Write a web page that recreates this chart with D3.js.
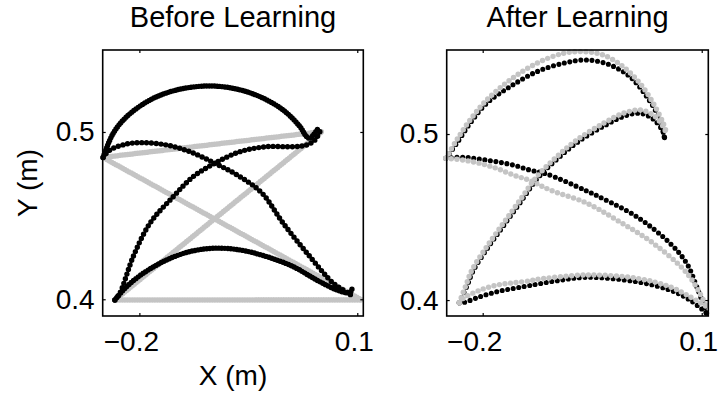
<!DOCTYPE html>
<html>
<head>
<meta charset="utf-8">
<script src="https://cdn.jsdelivr.net/npm/d3@7"></script>
<style>
  html, body { margin: 0; padding: 0; background: #fff; }
  svg { display: block; font-family: "Liberation Sans", Arial, Helvetica, sans-serif; }
</style>
</head>
<body>
<svg id="chart" width="719" height="393"></svg>
<script>
// ---- Text -----------------------------------------------------------------
const panelTitles = ["Before Learning", "After Learning"];
const xTickValues = [-0.2, 0.1];
const xTickLabels = ["\u22120.2", "0.1"];
const yTickValues = [0.4, 0.5];
const yTickLabels = ["0.4", "0.5"];
const xAxisLabel = "X (m)";
const yAxisLabel = "Y (m)";

// ---- Before learning: reference paths (gray) and hand paths (black), [x, y] in m
const beforeRefAC = [[-0.2503, 0.4848], [0.0510, 0.5002]];
const beforeRefAD = [[-0.2503, 0.4848], [0.1060, 0.3996]];
const beforeRefBC = [[-0.2337, 0.3996], [0.0510, 0.5002]];
const beforeRefBD = [[-0.2337, 0.3996], [0.1060, 0.3996]];

const beforeHandAC = [[-0.2499, 0.4848], [-0.2361, 0.4992], [-0.2176, 0.5091], [-0.1855, 0.5191],
  [-0.1488, 0.5251], [-0.1074, 0.5275], [-0.0708, 0.5261], [-0.0340, 0.5211], [-0.0019, 0.5131],
  [0.0211, 0.5032], [0.0303, 0.4972], [0.0348, 0.4962], [0.0400, 0.4985], [0.0463, 0.5022]];
const beforeHandAD = [[-0.2499, 0.4848], [-0.2406, 0.4892], [-0.2176, 0.4928], [-0.1948, 0.4936],
  [-0.1625, 0.4922], [-0.1304, 0.4882], [-0.0960, 0.4813], [-0.0616, 0.4733], [-0.0313, 0.4635],
  [-0.0019, 0.4454], [0.0348, 0.4255], [0.0669, 0.4096], [0.0807, 0.4056], [0.0899, 0.4026],
  [0.0927, 0.4050]];
const beforeHandBC = [[-0.2337, 0.3996], [-0.2269, 0.4036], [-0.2085, 0.4255], [-0.1855, 0.4454],
  [-0.1539, 0.4611], [-0.1259, 0.4733], [-0.0960, 0.4813], [-0.0616, 0.4882], [-0.0248, 0.4912],
  [0.0118, 0.4912], [0.0303, 0.4922], [0.0417, 0.4952], [0.0486, 0.5002]];
const beforeHandBD = [[-0.2337, 0.3996], [-0.2176, 0.4075], [-0.1948, 0.4155], [-0.1625, 0.4235],
  [-0.1304, 0.4285], [-0.0983, 0.4305], [-0.0616, 0.4295], [-0.0248, 0.4255], [0.0118, 0.4195],
  [0.0441, 0.4115], [0.0716, 0.4056], [0.0854, 0.4040], [0.0920, 0.4048], [0.0925, 0.4078]];

// ---- After learning
const afterRefAC = [[-0.2505, 0.4854], [-0.2356, 0.4964], [-0.2174, 0.5084], [-0.1945, 0.5205],
  [-0.1626, 0.5325], [-0.1260, 0.5426], [-0.0896, 0.5486], [-0.0622, 0.5496], [-0.0348, 0.5476],
  [-0.0074, 0.5405], [0.0155, 0.5305], [0.0337, 0.5185], [0.0474, 0.5064], [0.0521, 0.5004]];
const afterRefBC = [[-0.2321, 0.3984], [-0.2229, 0.4090], [-0.2147, 0.4181], [-0.1945, 0.4321],
  [-0.1718, 0.4462], [-0.1489, 0.4602], [-0.1260, 0.4743], [-0.0986, 0.4863], [-0.0712, 0.4964],
  [-0.0348, 0.5064], [-0.0074, 0.5125], [0.0155, 0.5145], [0.0337, 0.5114], [0.0474, 0.5044],
  [0.0521, 0.4994]];
const afterRefAD = [[-0.2505, 0.4854], [-0.2266, 0.4843], [-0.2037, 0.4823], [-0.1808, 0.4793],
  [-0.1581, 0.4753], [-0.1352, 0.4720], [-0.1078, 0.4663], [-0.0575, 0.4584], [-0.0119, 0.4470],
  [0.0333, 0.4343], [0.0795, 0.4163], [0.1022, 0.4000], [0.1068, 0.3950]];
const afterRefBD = [[-0.2321, 0.3984], [-0.2266, 0.4010], [-0.2037, 0.4060], [-0.1808, 0.4090],
  [-0.1581, 0.4104], [-0.1352, 0.4116], [-0.1260, 0.4124], [-0.0575, 0.4151], [0.0110, 0.4131],
  [0.0566, 0.4080], [0.0840, 0.4020], [0.1068, 0.3960]];

const afterHandAC = [[-0.2505, 0.4854], [-0.2356, 0.4944], [-0.2174, 0.5064], [-0.1945, 0.5185],
  [-0.1626, 0.5285], [-0.1260, 0.5375], [-0.0896, 0.5426], [-0.0575, 0.5446], [-0.0256, 0.5416],
  [0.0018, 0.5345], [0.0247, 0.5225], [0.0429, 0.5084], [0.0497, 0.4954]];
const afterHandBC = [[-0.2321, 0.3984], [-0.2215, 0.4085], [-0.2132, 0.4175], [-0.1930, 0.4315],
  [-0.1703, 0.4455], [-0.1474, 0.4595], [-0.1245, 0.4735], [-0.0971, 0.4853], [-0.0697, 0.4952],
  [-0.0333, 0.5050], [-0.0060, 0.5108], [0.0155, 0.5125], [0.0337, 0.5090], [0.0474, 0.5010],
  [0.0497, 0.4954]];
const afterHandAD = [[-0.2505, 0.4854], [-0.2266, 0.4860], [-0.2037, 0.4848], [-0.1808, 0.4833],
  [-0.1581, 0.4813], [-0.1352, 0.4783], [-0.1123, 0.4759], [-0.0575, 0.4657], [-0.0348, 0.4610],
  [0.0110, 0.4502], [0.0566, 0.4342], [0.0795, 0.4221], [0.0932, 0.4080], [0.1068, 0.3920]];
const afterHandBD = [[-0.2321, 0.3984], [-0.2266, 0.3985], [-0.2037, 0.4020], [-0.1808, 0.4050],
  [-0.1581, 0.4070], [-0.1352, 0.4088], [-0.1000, 0.4115], [-0.0575, 0.4137], [0.0110, 0.4110],
  [0.0566, 0.4060], [0.0840, 0.4000], [0.1068, 0.3920]];

// ---- Layout and styling ---------------------------------------------------
const GRAY = "#c4c4c4";
const panels = [
  {
    title: panelTitles[0],
    box: { left: 102.7, right: 363.3, top: 50, bottom: 316 },
    xDomain: [-0.2505, 0.1083], yDomain: [0.3900, 0.5490],
    refs: [beforeRefAC, beforeRefAD, beforeRefBC, beforeRefBD],
    hands: [beforeHandAC, beforeHandAD, beforeHandBC, beforeHandBD],
    refStyle: { width: 5.5, gap: [2.5, 2.5, 2.5, 2.5] },
    handStyle: { width: 5.4, gap: [2.6, 4.8, 4.8, 3.0] },
    refOnTop: false,
    showYLabel: true
  },
  {
    title: panelTitles[1],
    box: { left: 446.7, right: 708.3, top: 50, bottom: 316 },
    xDomain: [-0.2493, 0.1090], yDomain: [0.3904, 0.5506],
    refs: [afterRefAC, afterRefBC, afterRefAD, afterRefBD],
    hands: [afterHandAC, afterHandBC, afterHandAD, afterHandBD],
    refStyle: { width: 5.4, gap: [5.6, 5.6, 5.6, 5.6] },
    handStyle: { width: 5.1, gap: [5.6, 5.6, 5.6, 5.6] },
    refOnTop: true,
    showYLabel: false
  }
];

const svg = d3.select("#chart");
const FONT = 28;

panels.forEach(p => {
  const b = p.box;
  const x = d3.scaleLinear().domain(p.xDomain).range([b.left, b.right]);
  const y = d3.scaleLinear().domain(p.yDomain).range([b.bottom, b.top]);
  const g = svg.append("g");

  const line = d3.line()
    .x(d => x(d[0]))
    .y(d => y(d[1]))
    .curve(d3.curveCatmullRom.alpha(0.5));

  // dotted trajectories: round-capped zero-length dashes give one marker per gap
  const drawSet = (set, color, style) => {
    g.append("g").selectAll("path").data(set).join("path")
      .attr("d", line)
      .attr("fill", "none")
      .attr("stroke", color)
      .attr("stroke-width", style.width)
      .attr("stroke-linecap", "round")
      .attr("stroke-dasharray", (d, i) => `0 ${style.gap[i]}`);
  };
  if (p.refOnTop) {
    drawSet(p.hands, "#000", p.handStyle);
    drawSet(p.refs, GRAY, p.refStyle);
  } else {
    drawSet(p.refs, GRAY, p.refStyle);
    drawSet(p.hands, "#000", p.handStyle);
  }

  // axes with inward ticks on all four sides
  const styleAxis = sel => {
    sel.select(".domain").remove();
    sel.selectAll(".tick line").attr("stroke", "#000").attr("stroke-width", 1.2);
    sel.selectAll("text").attr("font-size", FONT).attr("fill", "#000")
      .attr("font-family", "'Liberation Sans', Arial, Helvetica, sans-serif");
  };

  const bottom = g.append("g").attr("transform", `translate(0,${b.bottom})`)
    .call(d3.axisBottom(x).tickValues(xTickValues)
      .tickFormat((d, i) => xTickLabels[i]).tickSizeInner(-3).tickSizeOuter(0).tickPadding(15));
  styleAxis(bottom);
  bottom.selectAll("text").attr("dx", d => d < 0 ? -8.5 : -3.5);

  const top = g.append("g").attr("transform", `translate(0,${b.top})`)
    .call(d3.axisTop(x).tickValues(xTickValues).tickFormat("").tickSizeInner(-3).tickSizeOuter(0));
  styleAxis(top);

  const left = g.append("g").attr("transform", `translate(${b.left},0)`)
    .call(d3.axisLeft(y).tickValues(yTickValues)
      .tickFormat((d, i) => yTickLabels[i]).tickSizeInner(-3).tickSizeOuter(0).tickPadding(8));
  styleAxis(left);

  const right = g.append("g").attr("transform", `translate(${b.right},0)`)
    .call(d3.axisRight(y).tickValues(yTickValues).tickFormat("").tickSizeInner(-3).tickSizeOuter(0));
  styleAxis(right);

  // box frame
  g.append("rect")
    .attr("x", b.left).attr("y", b.top)
    .attr("width", b.right - b.left).attr("height", b.bottom - b.top)
    .attr("fill", "none").attr("stroke", "#000").attr("stroke-width", 1.6);

  // title
  g.append("text")
    .attr("x", (b.left + b.right) / 2).attr("y", 27)
    .attr("text-anchor", "middle").attr("font-size", 29).attr("fill", "#000")
    .text(p.title);

  if (p.showYLabel) {
    g.append("text")
      .attr("transform", `translate(36.5,${(b.top + b.bottom) / 2}) rotate(-90)`)
      .attr("text-anchor", "middle").attr("font-size", FONT).attr("fill", "#000")
      .text(yAxisLabel);
    g.append("text")
      .attr("x", (b.left + b.right) / 2).attr("y", 385)
      .attr("text-anchor", "middle").attr("font-size", FONT).attr("fill", "#000")
      .text(xAxisLabel);
  }
});
</script>
</body>
</html>
